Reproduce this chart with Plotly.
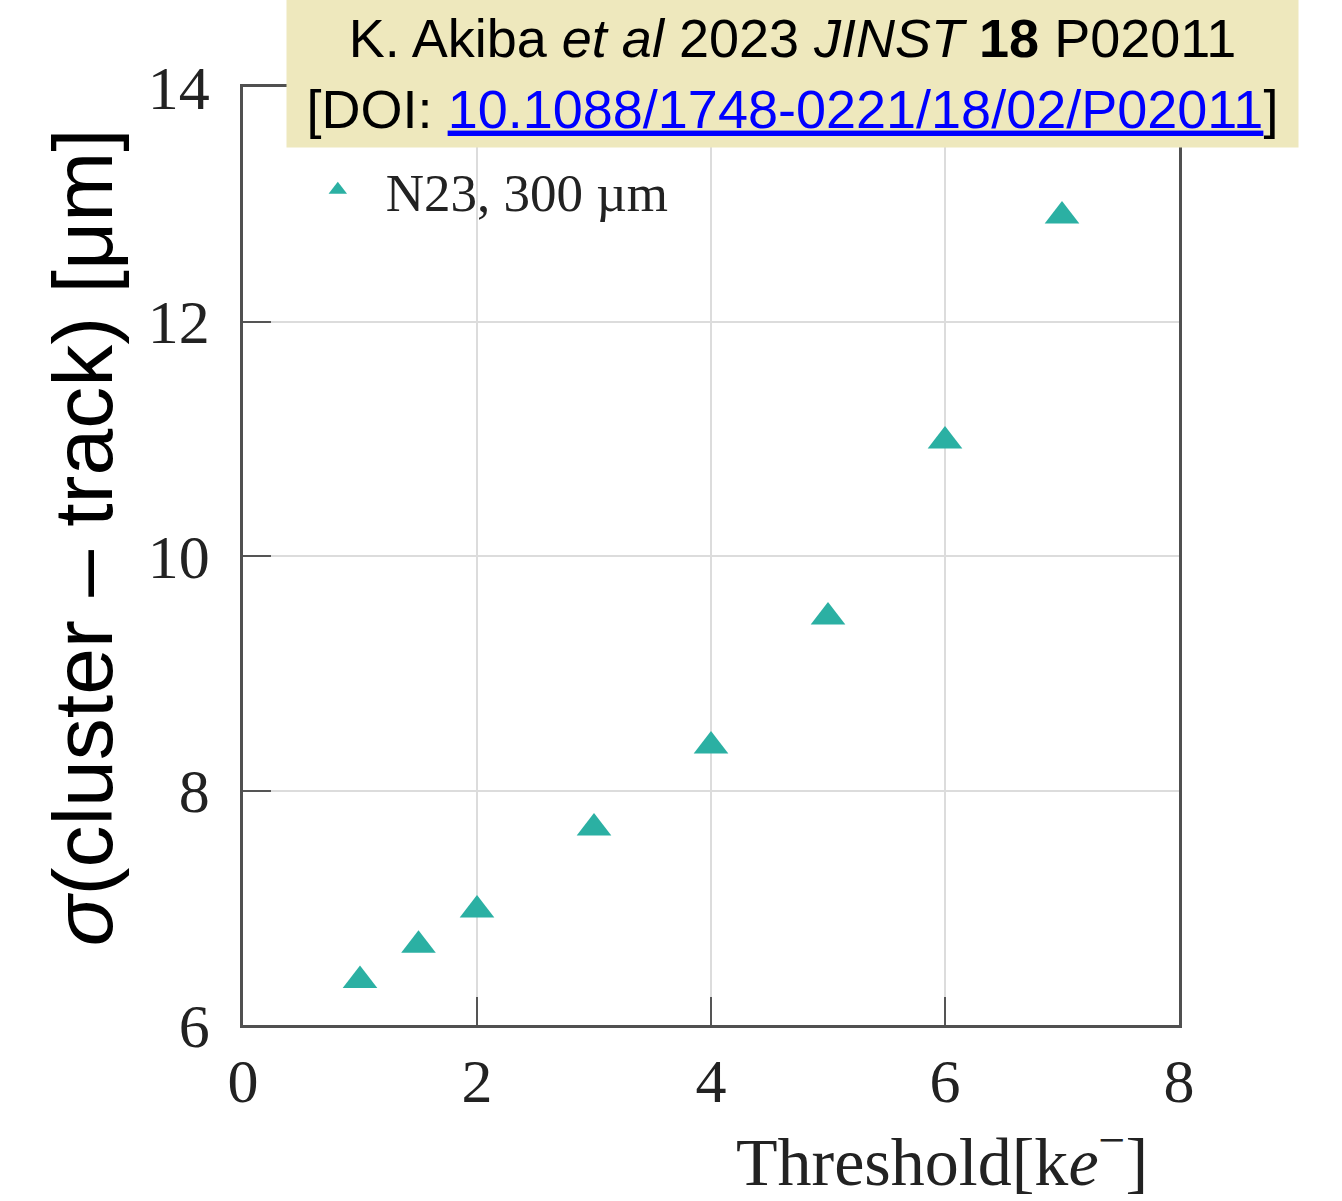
import plotly.graph_objects as go

# Data
threshold_ke = [1.0, 1.5, 2.0, 3.0, 4.0, 5.0, 6.0, 7.0]
sigma_um = [6.38, 6.68, 6.98, 7.68, 8.38, 9.48, 10.98, 12.90]
series_name = "N23, 300 µm"

x_ticks = [0, 2, 4, 6, 8]
y_ticks = [6, 8, 10, 12, 14]

serif = "Liberation Serif"
sans = "Liberation Sans"
teal = "#2bb0a3"

fig = go.Figure()
fig.add_trace(go.Scatter(
    x=threshold_ke, y=sigma_um, mode="markers", name=series_name,
    marker=dict(symbol="triangle-up", size=30, color=teal, line=dict(width=0)),
))

axis_common = dict(
    showline=True, linecolor="#505050", linewidth=2.5, mirror=True,
    ticks="inside", ticklen=28, tickwidth=2, tickcolor="#555555",
    showgrid=True, gridcolor="#dcdcdc", gridwidth=1.5, zeroline=False,
    tickfont=dict(family=serif, size=62, color="#222222"),
)

fig.update_layout(
    width=1342, height=1201,
    margin=dict(l=243, r=163, t=87, b=176),
    paper_bgcolor="white", plot_bgcolor="white",
    showlegend=True,
    legend=dict(x=0.05, y=0.934, xanchor="left", yanchor="top",
                bgcolor="rgba(0,0,0,0)", itemwidth=86,
                font=dict(family=serif, size=53, color="#222222")),
    xaxis=dict(range=[0, 8], tickvals=x_ticks, ticklabelstandoff=0, **axis_common),
    yaxis=dict(range=[6, 14], tickvals=y_ticks, ticklabelstandoff=18, **axis_common),
)

# Axis titles
fig.add_annotation(
    text="<i>σ</i>(cluster – track) [μm]", textangle=-90,
    xref="paper", yref="paper", x=-0.171, y=0.52,
    xanchor="center", yanchor="middle", showarrow=False,
    font=dict(family=sans, size=84, color="black"),
)
fig.add_annotation(
    text="Threshold[k<i>e</i><sup>−</sup>]",
    xref="paper", yref="paper", x=0.969, y=-0.141,
    xanchor="right", yanchor="middle", showarrow=False,
    font=dict(family=serif, size=68, color="#222222"),
)

# Citation box
fig.add_annotation(
    text=("K. Akiba <i>et al</i> 2023 <i>JINST</i> <b>18</b> P02011<br>"
          "[DOI: <a href=\"https://doi.org/10.1088/1748-0221/18/02/P02011\" "
          "style=\"color:#0000ff;text-decoration:underline\">10.1088/1748-0221/18/02/P02011</a>]"),
    xref="paper", yref="paper", x=0.587, y=1.0144,
    xanchor="center", yanchor="middle", showarrow=False,
    width=1011, height=147, borderpad=0, bgcolor="#eee8bd",
    align="center", valign="middle",
    font=dict(family=sans, size=54, color="black"),
)

fig.write_html("out.html", config={"displayModeBar": False},
               post_script="document.body.style.margin='0';")
